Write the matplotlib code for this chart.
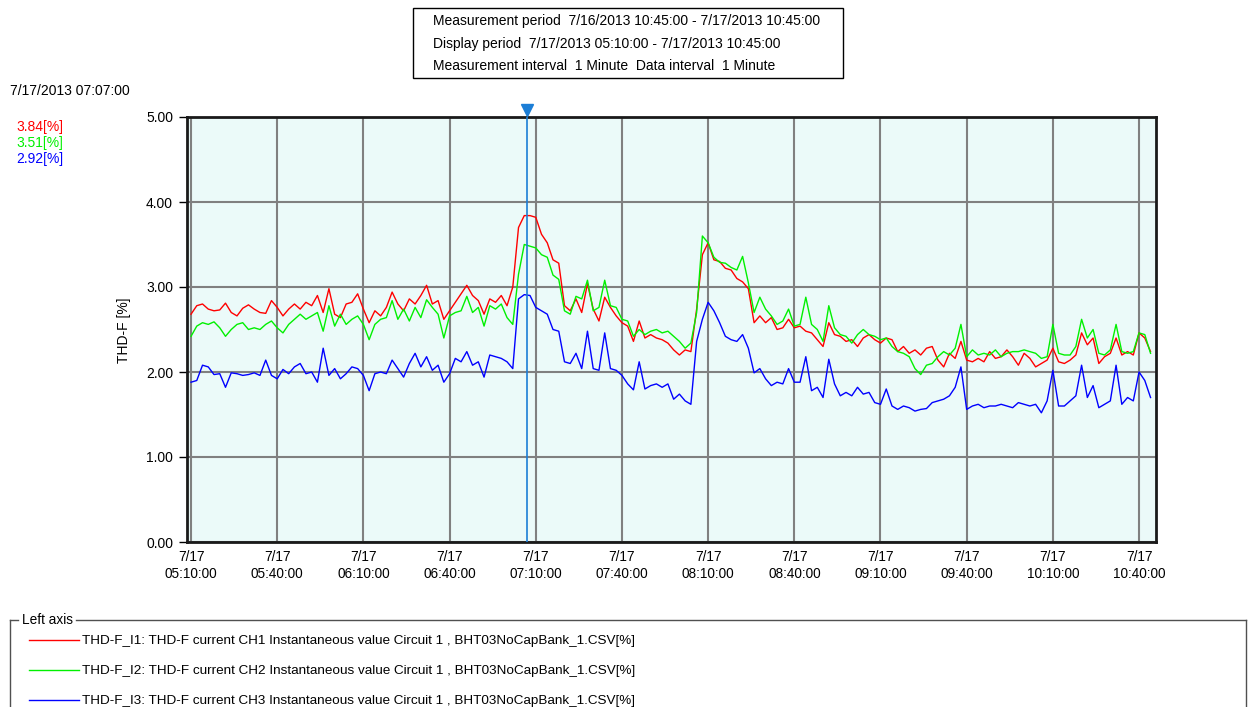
import matplotlib
matplotlib.use('Agg')
import matplotlib.pyplot as plt
from matplotlib.patches import Rectangle
from matplotlib.lines import Line2D
from matplotlib.ticker import FuncFormatter
import matplotlib.dates as mdates
import pandas as pd

plt.rcParams['font.family'] = ['Liberation Sans', 'DejaVu Sans']
plt.rcParams['font.size'] = 10

# readings every 2 minutes from 05:10
start = pd.Timestamp('2013-07-17 05:10')
times = pd.date_range(start, periods=168, freq='2min')

thd_i1 = [2.68, 2.78, 2.80, 2.74, 2.72, 2.73, 2.81, 2.70, 2.66, 2.75, 2.79, 2.74, 2.70, 2.69, 2.84,
          2.76, 2.66, 2.74, 2.80, 2.74, 2.82, 2.78, 2.90, 2.70, 2.98, 2.68, 2.64, 2.80, 2.82, 2.92,
          2.74, 2.58, 2.72, 2.66, 2.76, 2.94, 2.80, 2.72, 2.86, 2.80, 2.90, 3.02, 2.80, 2.84, 2.62,
          2.72, 2.82, 2.92, 3.02, 2.90, 2.84, 2.68, 2.86, 2.82, 2.90, 2.78, 3.00, 3.70, 3.84, 3.84,
          3.82, 3.62, 3.52, 3.32, 3.28, 2.78, 2.72, 2.86, 2.70, 3.04, 2.74, 2.60, 2.88, 2.76, 2.66,
          2.58, 2.54, 2.36, 2.60, 2.40, 2.44, 2.40, 2.38, 2.34, 2.26, 2.20, 2.26, 2.24, 2.74, 3.38,
          3.52, 3.32, 3.30, 3.22, 3.20, 3.10, 3.06, 2.98, 2.58, 2.66, 2.58, 2.64, 2.50, 2.52, 2.62,
          2.52, 2.54, 2.48, 2.46, 2.38, 2.30, 2.58, 2.44, 2.42, 2.36, 2.38, 2.30, 2.40, 2.44, 2.38,
          2.34, 2.40, 2.38, 2.24, 2.30, 2.22, 2.26, 2.20, 2.28, 2.30, 2.14, 2.06, 2.22, 2.16, 2.36,
          2.14, 2.12, 2.16, 2.12, 2.24, 2.16, 2.18, 2.26, 2.18, 2.08, 2.22, 2.16, 2.06, 2.10, 2.14,
          2.28, 2.12, 2.10, 2.14, 2.20, 2.46, 2.32, 2.40, 2.10, 2.18, 2.22, 2.40, 2.20, 2.24, 2.20,
          2.46, 2.40, 2.24]

thd_i2 = [2.42, 2.54, 2.58, 2.56, 2.59, 2.52, 2.42, 2.50, 2.56, 2.58, 2.50, 2.52, 2.50, 2.56, 2.60,
          2.52, 2.46, 2.56, 2.62, 2.68, 2.62, 2.66, 2.70, 2.48, 2.78, 2.54, 2.68, 2.56, 2.62, 2.66,
          2.56, 2.38, 2.56, 2.62, 2.64, 2.84, 2.62, 2.74, 2.60, 2.76, 2.64, 2.85, 2.76, 2.68, 2.40,
          2.66, 2.70, 2.72, 2.89, 2.70, 2.76, 2.54, 2.78, 2.74, 2.80, 2.64, 2.56, 3.15, 3.50, 3.48,
          3.46, 3.38, 3.35, 3.14, 3.09, 2.72, 2.68, 2.89, 2.86, 3.08, 2.72, 2.76, 3.08, 2.78, 2.76,
          2.62, 2.60, 2.42, 2.50, 2.44, 2.48, 2.50, 2.46, 2.48, 2.42, 2.36, 2.28, 2.34, 2.70, 3.60,
          3.52, 3.35, 3.29, 3.28, 3.23, 3.20, 3.36, 3.05, 2.70, 2.88, 2.74, 2.66, 2.56, 2.60, 2.74,
          2.54, 2.56, 2.88, 2.56, 2.50, 2.36, 2.78, 2.52, 2.44, 2.42, 2.34, 2.44, 2.50, 2.44, 2.42,
          2.38, 2.40, 2.30, 2.24, 2.22, 2.18, 2.04, 1.97, 2.08, 2.10, 2.18, 2.24, 2.20, 2.28, 2.56,
          2.18, 2.26, 2.20, 2.22, 2.20, 2.26, 2.18, 2.22, 2.24, 2.24, 2.26, 2.24, 2.22, 2.16, 2.18,
          2.56, 2.22, 2.20, 2.20, 2.30, 2.62, 2.40, 2.50, 2.22, 2.20, 2.26, 2.56, 2.24, 2.22, 2.24,
          2.46, 2.44, 2.22]

thd_i3 = [1.88, 1.90, 2.08, 2.06, 1.97, 1.98, 1.82, 1.99, 1.98, 1.96, 1.97, 1.99, 1.96, 2.14, 1.96,
          1.92, 2.03, 1.98, 2.06, 2.10, 1.98, 2.00, 1.88, 2.28, 1.96, 2.04, 1.92, 1.98, 2.06, 2.04,
          1.96, 1.78, 1.98, 2.00, 1.98, 2.14, 2.04, 1.94, 2.10, 2.22, 2.06, 2.18, 2.02, 2.08, 1.88,
          1.98, 2.16, 2.12, 2.24, 2.08, 2.12, 1.94, 2.20, 2.18, 2.16, 2.12, 2.04, 2.86, 2.91, 2.90,
          2.76, 2.72, 2.68, 2.50, 2.48, 2.12, 2.10, 2.22, 2.04, 2.48, 2.04, 2.02, 2.46, 2.04, 2.02,
          1.96, 1.86, 1.79, 2.12, 1.80, 1.84, 1.86, 1.82, 1.86, 1.68, 1.74, 1.66, 1.62, 2.36, 2.62,
          2.82, 2.72, 2.58, 2.42, 2.38, 2.36, 2.44, 2.28, 1.99, 2.04, 1.92, 1.84, 1.88, 1.86, 2.04,
          1.88, 1.88, 2.18, 1.78, 1.82, 1.70, 2.15, 1.86, 1.72, 1.76, 1.72, 1.82, 1.74, 1.76, 1.64,
          1.62, 1.80, 1.60, 1.56, 1.60, 1.58, 1.54, 1.56, 1.57, 1.64, 1.66, 1.68, 1.72, 1.82, 2.06,
          1.56, 1.60, 1.62, 1.58, 1.60, 1.60, 1.62, 1.60, 1.58, 1.64, 1.62, 1.60, 1.62, 1.52, 1.66,
          2.02, 1.60, 1.60, 1.66, 1.72, 2.08, 1.70, 1.84, 1.58, 1.62, 1.66, 2.08, 1.62, 1.70, 1.66,
          2.00, 1.90, 1.70]

labels = ['THD-F_I1: THD-F current CH1 Instantaneous value Circuit 1 , BHT03NoCapBank_1.CSV[%]',
          'THD-F_I2: THD-F current CH2 Instantaneous value Circuit 1 , BHT03NoCapBank_1.CSV[%]',
          'THD-F_I3: THD-F current CH3 Instantaneous value Circuit 1 , BHT03NoCapBank_1.CSV[%]']
colors = ['#FF0000', '#00F000', '#0000FF']
cursor_time = pd.Timestamp('2013-07-17 07:07')
cursor_vals = ['3.84[%]', '3.51[%]', '2.92[%]']
header = ['Measurement period  7/16/2013 10:45:00 - 7/17/2013 10:45:00',
          'Display period  7/17/2013 05:10:00 - 7/17/2013 10:45:00',
          'Measurement interval  1 Minute  Data interval  1 Minute']

W, H = 1248, 707


def fx(x):
    return x / W


def fy(y):
    return 1 - y / H


fig = plt.figure(figsize=(W / 100, H / 100), dpi=100)
ax = fig.add_axes([fx(187), fy(542), (1156 - 187) / W, (542 - 117) / H])
ax.set_facecolor('#EBFAF9')

lines = []
for vals, c, lab in zip([thd_i1, thd_i2, thd_i3], colors, labels):
    ln, = ax.plot(times, vals, color=c, linewidth=1.0, label=lab, zorder=3)
    lines.append(ln)

ax.axvline(cursor_time, color='#1C7ED6', linewidth=1.2, zorder=4)
ax.plot([cursor_time], [1.017], marker='v', markersize=9, color='#1C7ED6',
        transform=ax.get_xaxis_transform(), clip_on=False, zorder=5)

ax.set_xlim(start - pd.Timedelta(minutes=1.4), start + pd.Timedelta(minutes=335.9))
ax.set_ylim(0, 5)
ax.set_xticks(pd.date_range(start, periods=12, freq='30min'))
ax.set_yticks([0, 1, 2, 3, 4, 5])
ax.xaxis.set_major_formatter(FuncFormatter(
    lambda v, p: '{d.month}/{d.day}\n{d:%H:%M:%S}'.format(d=mdates.num2date(v))))
ax.yaxis.set_major_formatter(FuncFormatter(lambda v, p: f'{v:.2f}'))
ax.tick_params(axis='x', length=0, pad=6, labelsize=9.8)
ax.tick_params(axis='y', length=6, width=1, pad=4, labelsize=10)
ax.grid(color='#808080', linewidth=1.5, zorder=1)
ax.set_axisbelow(True)
for s in ax.spines.values():
    s.set_linewidth(2)
    s.set_color('#1A1A1A')

fig.text(fx(124), fy(330), 'THD-F [%]', rotation=90, ha='center', va='center', fontsize=10)

# cursor readout
fig.text(fx(10), fy(91), '7/17/2013 07:07:00', ha='left', va='center', fontsize=10)
for i, (txt, c) in enumerate(zip(cursor_vals, colors)):
    fig.text(fx(16), fy(127 + 16 * i), txt, color=c, ha='left', va='center', fontsize=10)

# header box
fig.add_artist(Rectangle((fx(413), fy(78)), (843 - 413) / W, (78 - 8) / H,
                         transform=fig.transFigure, fill=False, edgecolor='black', linewidth=1))
for i, txt in enumerate(header):
    fig.text(fx(433), fy(21.5 + 22.5 * i), txt, ha='left', va='center', fontsize=10)

# legend group box
gb = '#505050'
fig.add_artist(Line2D([fx(10), fx(10)], [fy(620), 0], color=gb, linewidth=1))
fig.add_artist(Line2D([fx(10), fx(18)], [fy(620), fy(620)], color=gb, linewidth=1))
fig.add_artist(Line2D([fx(76), fx(1246)], [fy(620), fy(620)], color=gb, linewidth=1))
fig.add_artist(Line2D([fx(1246), fx(1246)], [fy(620), 0], color=gb, linewidth=1))
fig.text(fx(22), fy(620), 'Left axis', ha='left', va='center', fontsize=9.8)

fig.legend(handles=lines, labels=labels, loc='upper left',
           bbox_to_anchor=(fx(29), fy(635)), frameon=False, fontsize=9.7,
           handlelength=3.7, handletextpad=0.2, labelspacing=1.3,
           borderpad=0, borderaxespad=0)

fig.savefig('out.png', dpi=100)
